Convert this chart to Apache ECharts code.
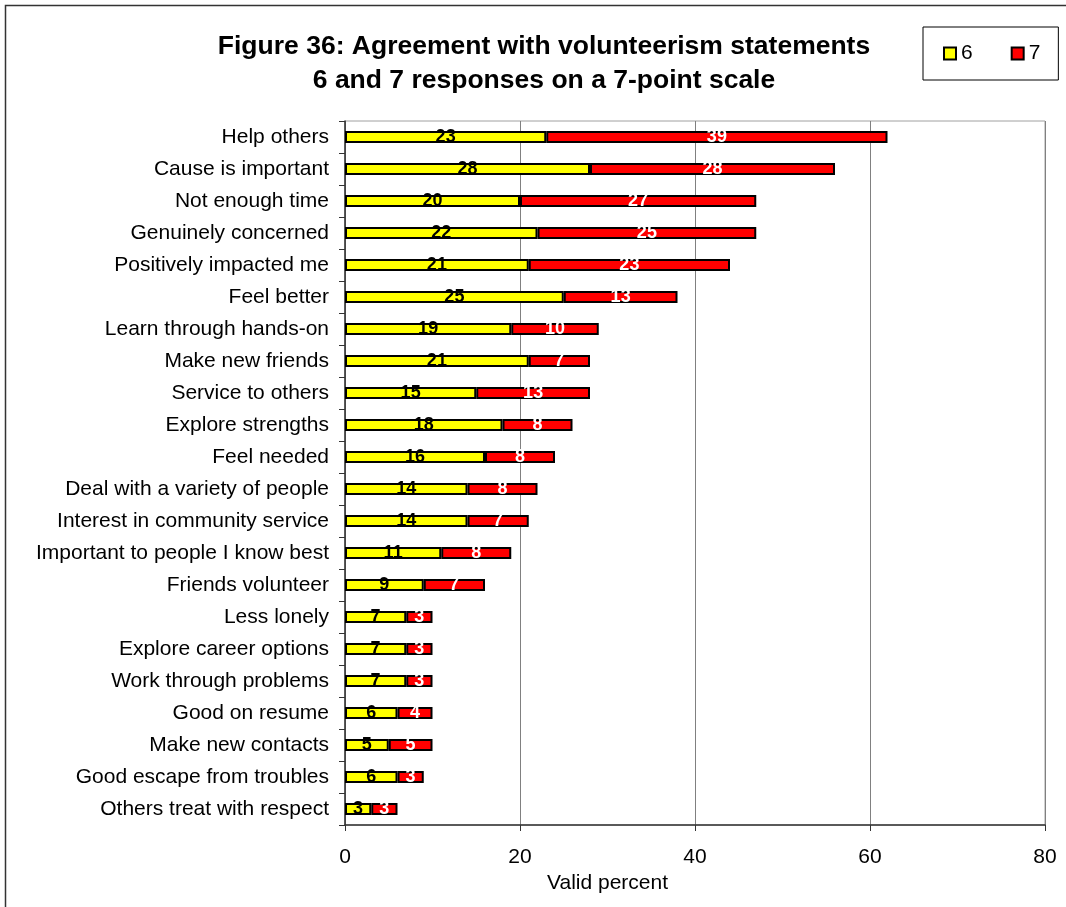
<!DOCTYPE html>
<html>
<head>
<meta charset="utf-8">
<script src="https://cdn.jsdelivr.net/npm/echarts@6/dist/echarts.min.js"></script>
<style>
  html, body { margin: 0; padding: 0; background: #fff; }
  #chart { width: 1066px; height: 907px; }
</style>
</head>
<body>
<div id="chart"></div>
<script>
// Statements, top to bottom
const categories = [
  'Help others', 'Cause is important', 'Not enough time', 'Genuinely concerned',
  'Positively impacted me', 'Feel better', 'Learn through hands-on', 'Make new friends',
  'Service to others', 'Explore strengths', 'Feel needed', 'Deal with a variety of people',
  'Interest in community service', 'Important to people I know best', 'Friends volunteer',
  'Less lonely', 'Explore career options', 'Work through problems', 'Good on resume',
  'Make new contacts', 'Good escape from troubles', 'Others treat with respect'
];
// Percent answering 6 on the 7-point scale
const score6 = [23, 28, 20, 22, 21, 25, 19, 21, 15, 18, 16, 14, 14, 11, 9, 7, 7, 7, 6, 5, 6, 3];
// Percent answering 7 on the 7-point scale
const score7 = [39, 28, 27, 25, 23, 13, 10, 7, 13, 8, 8, 8, 7, 8, 7, 3, 3, 3, 4, 5, 3, 3];
const xTicks = [0, 20, 40, 60, 80];

const FONT = '"Liberation Sans", Arial, sans-serif';
const chart = echarts.init(document.getElementById('chart'), null, { renderer: 'canvas' });

const barSeries = (name, data, color, labelColor) => ({
  name, type: 'bar', stack: 'total', data,
  barWidth: 12,
  itemStyle: { color, borderColor: '#000', borderWidth: 2 },
  label: {
    show: true, position: 'inside', color: labelColor,
    fontFamily: FONT, fontWeight: 'bold', fontSize: 18,
    formatter: p => String(p.value)
  },
  emphasis: { disabled: true },
  animation: false
});

chart.setOption({
  backgroundColor: '#fff',
  animation: false,
  title: {
    text: 'Figure 36: Agreement with volunteerism statements\n6 and 7 responses on a 7-point scale',
    left: 539, top: 25, textAlign: 'center',
    textStyle: { fontFamily: FONT, fontWeight: 'bold', fontSize: 26.5, lineHeight: 34, color: '#000' }
  },
  legend: {
    left: 923, top: 27,
    padding: [16, 18, 16, 20],
    itemGap: 38, itemWidth: 12, itemHeight: 12,
    borderColor: '#000', borderWidth: 1,
    icon: 'rect',
    textStyle: { fontFamily: FONT, fontSize: 21, color: '#000' },
    data: ['6', '7']
  },
  grid: {
    left: 345, right: 21, top: 121, bottom: 82,
    show: true, borderColor: '#a0a0a0', borderWidth: 1,
    containLabel: false
  },
  xAxis: {
    type: 'value', min: 0, max: 80, interval: 20,
    axisLine: { show: true, lineStyle: { color: '#333', width: 1.5 } },
    axisTick: { show: true, length: 6, lineStyle: { color: '#333' } },
    splitLine: { show: true, lineStyle: { color: '#808080', width: 1 } },
    axisLabel: {
      margin: 22, fontFamily: FONT, fontSize: 21, color: '#000',
      formatter: v => (xTicks.includes(v) ? String(v) : '')
    }
  },
  yAxis: {
    type: 'category', data: categories, inverse: true,
    axisLine: { show: true, lineStyle: { color: '#333', width: 1.5 } },
    axisTick: { show: true, length: 6, alignWithLabel: false, lineStyle: { color: '#333' } },
    axisLabel: { margin: 16, fontFamily: FONT, fontSize: 21, color: '#000' }
  },
  graphic: [
    {
      type: 'rect', silent: true, z: 100,
      shape: { x: 5.5, y: 5.5, width: 1200, height: 1200 },
      style: { fill: 'none', stroke: '#333', lineWidth: 1.5 }
    },
    {
      type: 'text', silent: true, left: 547, top: 873,
      style: { text: 'Valid percent', fontFamily: FONT, fontSize: 21, fill: '#000' }
    }
  ],
  series: [
    barSeries('6', score6, '#ffff00', '#000'),
    barSeries('7', score7, '#ff0000', '#fff')
  ]
});
</script>
</body>
</html>
